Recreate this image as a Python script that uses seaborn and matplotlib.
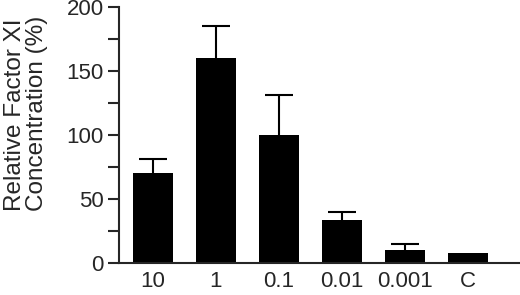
import seaborn as sns
import matplotlib.pyplot as plt
import numpy as np
import pandas as pd

# valores
doses = ['10', '1', '0.1', '0.01', '0.001', 'C']
conc = [70, 160, 100, 33.5, 10, 8]
erro = [11, 25, 31, 6, 5, 0]

df = pd.DataFrame({'dose': doses, 'conc': conc})

sns.set_style('ticks')
plt.rcParams['font.family'] = ['Liberation Sans', 'DejaVu Sans']

fig = plt.figure(figsize=(5.2, 2.95), dpi=100)
ax = fig.add_axes([0.2288, 0.1085, 0.7712, 0.8675])

sns.barplot(data=df, x='dose', y='conc', color='black', width=0.635,
            saturation=1, ax=ax, linewidth=0, zorder=2)

# barras de erro so para cima: linha vertical + tampa
x = np.arange(len(doses))
c = np.array(conc)
e = np.array(erro)
m = e > 0
ax.vlines(x[m], c[m], c[m] + e[m], color='black', linewidth=1.5, zorder=1)
ax.plot(x[m], c[m] + e[m], ls='none', marker='_', ms=20, mew=1.5,
        color='black', zorder=1)

ax.set_ylim(0, 200)
ax.set_xlim(-0.54, 5.83)
ax.set_yticks([0, 50, 100, 150, 200])
ax.set_yticks([25, 75, 125, 175], minor=True)
ax.tick_params(axis='y', which='both', length=8, width=1.5, labelsize=16, pad=3)
ax.tick_params(axis='x', length=0, labelsize=16, pad=6)

for s in ['top', 'right']:
    ax.spines[s].set_visible(False)
for s in ['left', 'bottom']:
    ax.spines[s].set_linewidth(1.5)

ax.set_xlabel('')
ax.set_ylabel('Relative Factor XI\nConcentration (%)', fontsize=17.5,
              multialignment='left', linespacing=1.0)
ax.yaxis.set_label_coords(-0.176, 0.585)

fig.savefig('out.png', dpi=100)
